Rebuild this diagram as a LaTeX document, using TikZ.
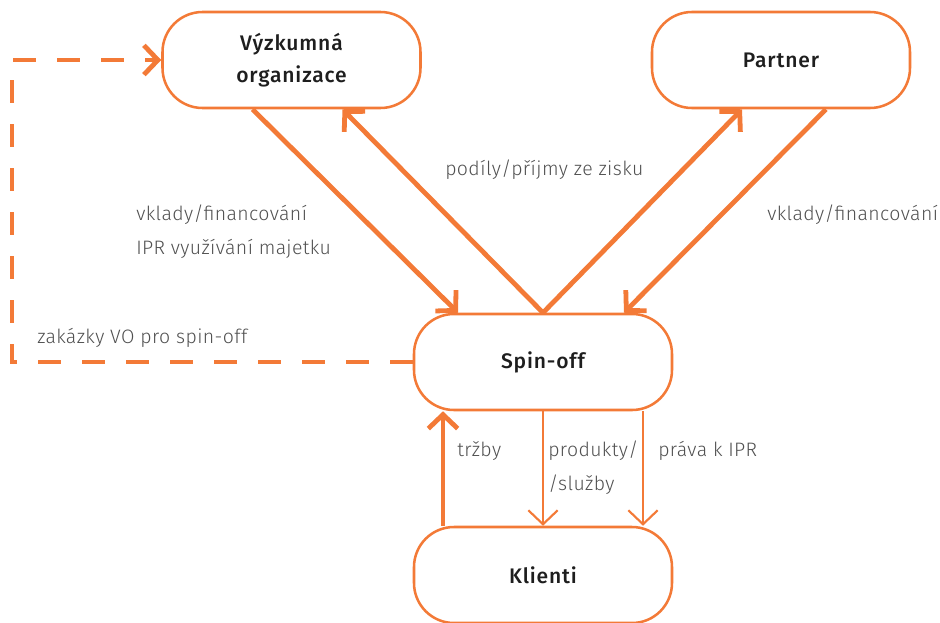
\documentclass[tikz,border=0pt]{standalone}
\usepackage{fontspec}
\setmainfont{Fira Sans Light}[LetterSpace=2]
\newfontfamily\boxfont{Fira Sans Medium}[LetterSpace=4]
\usetikzlibrary{arrows.meta,calc}
\definecolor{accent}{RGB}{243,122,55}
\definecolor{labelgray}{RGB}{80,80,80}
\definecolor{boxtext}{RGB}{30,30,30}
\begin{document}
\begin{tikzpicture}[x=0.75pt,y=-0.75pt,
  entity/.style={draw=accent, line width=1.9pt, rounded corners=30pt,
    minimum width=193.5pt, minimum height=72pt, align=center, fill=white,
    text=boxtext, font=\boxfont\fontsize{15.8}{24}\selectfont},
  flowlabel/.style={anchor=west, inner sep=0pt, text=labelgray, align=left,
    font=\fontsize{14.6}{25.5}\selectfont},
  barb/.tip={Straight Barb[length=10.5pt,width=22pt]},
  heavy/.style={draw=accent, line width=3.6pt, -barb},
  light/.style={draw=accent, line width=1.6pt, -barb},
  dashflow/.style={draw=accent, line width=3.6pt, -barb,
    dash pattern=on 17pt off 16pt}]
  \useasboundingbox (0,0) rectangle (940,622);

  % organisations
  \node[entity] (vo) at (291.5,60) {Výzkumná\\organizace};
  \node[entity] (pa) at (781,60) {Partner};
  \node[entity] (so) at (543,362) {Spin-off};
  \node[entity] (kl) at (543,575) {Klienti};

  % flows between the research organisation, the partner and the spin-off
  \draw[heavy] ($(vo.south)+(-39,0)$) -- ($(so.north)+(-85,0)$);
  \draw[heavy] (so.north) -- ($(vo.south)+(51,0)$);
  \draw[heavy] (so.north) -- ($(pa.south)+(-39,0)$);
  \draw[heavy] ($(pa.south)+(45,0)$) -- ($(so.north)+(81,0)$);

  % flows between the spin-off and its clients
  \draw[heavy] ($(kl.north)+(-100,0)$) -- ($(so.south)+(-100,0)$);
  \draw[light] (so.south) -- (kl.north);
  \draw[light] ($(so.south)+(100,0)$) -- ($(kl.north)+(100,0)$);

  % contracts from the research organisation to the spin-off
  \coordinate (loop) at (12,0);
  \draw[dashflow] (so.west) -- (so.west -| loop) -- (vo.west -| loop) -- (vo.west);

  % flow labels
  \node[flowlabel] (l1) at (136,232) {vklady/financování\\IPR využívání majetku};
  \node[flowlabel] (l2) at (445,170) {podíly/příjmy ze zisku};
  \node[flowlabel] (l3) at (767,215) {vklady/financování};
  \node[flowlabel] (l4) at (37,338) {zakázky VO pro spin-off};
  \node[flowlabel] (l5) at (457,451) {tržby};
  \node[flowlabel] (l6) at (548,468) {produkty/\\/služby};
  \node[flowlabel] (l7) at (658,451) {práva k IPR};
\end{tikzpicture}
\end{document}
